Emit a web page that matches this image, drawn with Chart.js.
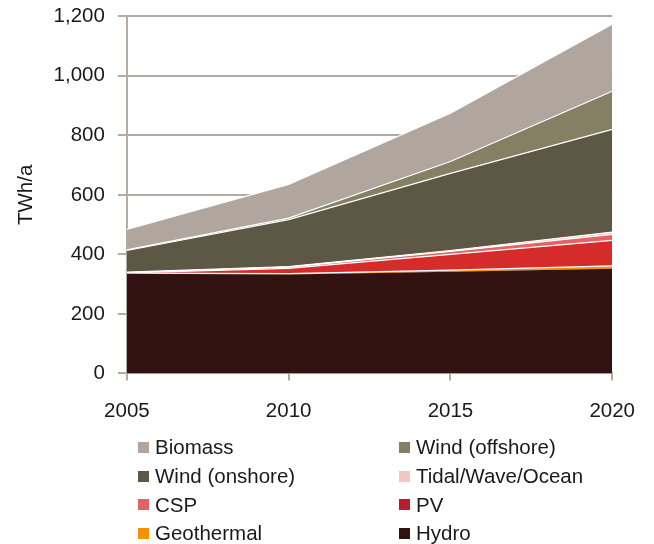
<!DOCTYPE html>
<html>
<head>
<meta charset="utf-8">
<script src="https://cdn.jsdelivr.net/npm/chart.js@4"></script>
<style>
  body { margin: 0; background: #fff; font-family: "Liberation Sans", Arial, sans-serif; }
  #wrap { position: relative; width: 654px; height: 452px; margin-top: -9px; }
  #legend { position: absolute; top: 433px; left: 138px; width: 510px;
            display: grid; grid-template-columns: 261px 249px; row-gap: 0; }
  .item { height: 28.7px; display: flex; align-items: center; font-size: 20.5px; color: #1a1a1a; white-space: nowrap; }
  .box { width: 11px; height: 11px; margin-right: 6px; flex: none; }
</style>
</head>
<body>
<div id="wrap"><canvas id="chart"></canvas></div>
<div id="legend"></div>
<script>
const years = ['2005', '2010', '2015', '2020'];

// stacked from bottom to top
const hydro = [335, 332, 342, 352];
const geothermal = [2, 3, 5, 9];
const pv = [1, 18, 53, 86];
const csp = [1, 4, 10, 20];
const tidal = [1, 2, 3, 8];
const windOnshore = [73, 158, 259, 345];
const windOffshore = [2, 5, 40, 128];
const biomass = [69, 113, 162, 225];

const seriesNames = ['Hydro', 'Geothermal', 'PV', 'CSP', 'Tidal/Wave/Ocean', 'Wind (onshore)', 'Wind (offshore)', 'Biomass'];
const seriesData = [hydro, geothermal, pv, csp, tidal, windOnshore, windOffshore, biomass];
const fillColors = ['#321111', '#f39200', '#d52b2b', '#e46465', '#f3c6c4', '#5d5745', '#857f63', '#b0a69d'];
const legendColors = {'Hydro': '#321111', 'Geothermal': '#f39200', 'PV': '#b91c30', 'CSP': '#e36264',
  'Tidal/Wave/Ocean': '#f3c6c4', 'Wind (onshore)': '#5d5745', 'Wind (offshore)': '#857f63', 'Biomass': '#b0a69d'};
const legendOrder = ['Biomass', 'Wind (offshore)', 'Wind (onshore)', 'Tidal/Wave/Ocean', 'CSP', 'PV', 'Geothermal', 'Hydro'];

const gray = '#b3aba4';
const font = { size: 20.5, family: 'Liberation Sans' };

const datasets = seriesNames.map((name, i) => ({
    label: name,
    data: seriesData[i],
    backgroundColor: fillColors[i],
    borderColor: i === 0 ? fillColors[i] : '#ffffff',
    borderWidth: i === 0 ? 0 : 1.2,
    fill: i === 0 ? 'origin' : '-1',
    pointRadius: 0,
    tension: 0
}));

new Chart(document.getElementById('chart'), {
    type: 'line',
    data: { labels: years, datasets: datasets },
    options: {
        responsive: true,
        maintainAspectRatio: false,
        animation: false,
        layout: { padding: { top: 0, right: 37, left: 14, bottom: 0 } },
        plugins: { legend: { display: false }, tooltip: { enabled: false } },
        scales: {
            x: {
                offset: false,
                grid: { drawOnChartArea: false, color: gray, lineWidth: 2, tickLength: 7 },
                border: { color: gray, width: 2 },
                ticks: { color: '#1a1a1a', font: font, padding: 19, maxRotation: 0 }
            },
            y: {
                stacked: true,
                min: 0,
                max: 1200,
                grid: { color: gray, lineWidth: 2, tickLength: 9 },
                border: { color: gray, width: 2 },
                ticks: {
                    stepSize: 200,
                    color: '#1a1a1a',
                    font: font,
                    padding: 13,
                    callback: v => v.toLocaleString('en-US')
                },
                title: { display: true, text: 'TWh/a', color: '#1a1a1a', font: font, padding: { top: 0, bottom: 2 } }
            }
        }
    }
});

const legend = document.getElementById('legend');
legendOrder.forEach(name => {
    const item = document.createElement('div');
    item.className = 'item';
    item.innerHTML = '<span class="box" style="background:' + legendColors[name] + '"></span>' + name;
    legend.appendChild(item);
});
</script>
</body>
</html>
